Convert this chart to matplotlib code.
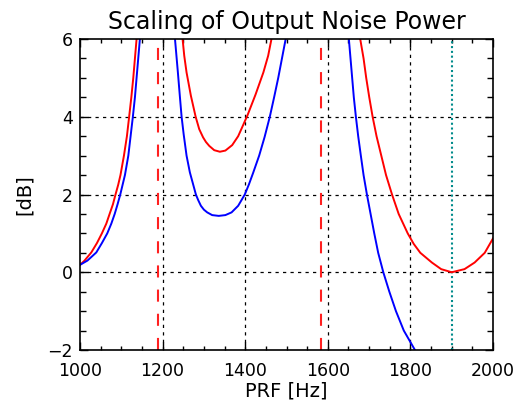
import matplotlib
matplotlib.use("Agg")
import matplotlib.pyplot as plt
from matplotlib.ticker import MultipleLocator

# values
# red curve, three branches
red_left_prf = [1000, 1011, 1027.4, 1041, 1053, 1063.7, 1071.7, 1079.8, 1086, 1092.5, 1098, 1106.4,
                1113.6, 1119, 1124.3, 1129, 1133, 1137, 1140]
red_left_db = [0.19, 0.3, 0.51, 0.75, 1.0, 1.25, 1.5, 1.75, 2.0, 2.25, 2.5, 3.0,
               3.5, 4.0, 4.5, 5.0, 5.5, 6.0, 6.4]
red_mid_prf = [1244, 1248.4, 1252.4, 1258, 1268.5, 1280, 1288.7, 1298, 1305, 1313, 1325, 1338.7, 1352,
               1368.5, 1383, 1393.5, 1406, 1425, 1444, 1455.6, 1463.6, 1468]
red_mid_db = [6.5, 6.0, 5.57, 5.14, 4.54, 4.0, 3.68, 3.47, 3.35, 3.25, 3.14, 3.10, 3.13,
              3.27, 3.5, 3.75, 4.05, 4.57, 5.14, 5.57, 6.0, 6.3]
red_right_prf = [1675, 1678.5, 1686.6, 1693, 1700.4, 1708.5, 1718, 1729.5, 1741, 1755.5, 1771.6,
                 1793.5, 1808, 1824, 1852, 1874.5, 1900, 1931, 1955.5, 1980, 2000]
red_right_db = [6.4, 6.0, 5.5, 5.0, 4.5, 4.0, 3.5, 3.0, 2.5, 2.0, 1.5,
                1.0, 0.73, 0.5, 0.25, 0.08, 0.0, 0.08, 0.25, 0.5, 0.87]

# blue curve, three branches
blue_left_prf = [1000, 1018, 1039.5, 1053, 1066, 1075.8, 1084, 1091, 1097.5, 1108.8, 1117, 1122.5,
                 1128, 1133, 1137, 1141, 1145, 1148]
blue_left_db = [0.19, 0.3, 0.51, 0.75, 1.0, 1.25, 1.5, 1.75, 2.0, 2.5, 3.0, 3.5,
                4.0, 4.5, 5.0, 5.5, 6.0, 6.4]
blue_mid_prf = [1226, 1230, 1237, 1242, 1246, 1251, 1258, 1266, 1280.6, 1286, 1292.7, 1300, 1308,
                1320, 1336, 1352, 1367, 1383, 1399, 1409, 1419, 1433.8, 1447, 1459.6, 1470, 1480,
                1489, 1498, 1502]
blue_mid_db = [6.5, 6.0, 5.14, 4.5, 4.0, 3.55, 3.0, 2.57, 2.0, 1.86, 1.71, 1.61, 1.54,
               1.47, 1.45, 1.47, 1.54, 1.71, 2.0, 2.26, 2.55, 3.0, 3.48, 4.0, 4.5, 5.0,
               5.5, 6.0, 6.2]
blue_right_prf = [1648, 1651, 1655, 1659, 1663, 1668, 1673.6, 1680, 1686.6, 1694.7, 1703.6, 1712.5,
                  1722, 1734.4, 1749, 1765, 1784, 1811, 1815]
blue_right_db = [6.4, 6.0, 5.5, 5.0, 4.5, 4.0, 3.5, 3.0, 2.5, 2.0, 1.5, 1.0,
                 0.5, 0.0, -0.5, -1.0, -1.5, -2.0, -2.1]

blind_prf = [1188, 1584]            # red dashed markers
grid_prf = [1200, 1400, 1600, 1800]
grid_db = [0, 2, 4]
nominal_prf = 1900                  # teal dotted marker

plt.rcParams['font.family'] = ['DejaVu Sans']

fig = plt.figure(figsize=(5.2, 4.03), dpi=100)
ax = fig.add_axes([80 / 520, 1 - 350 / 403, 413 / 520, 311 / 403])

for x in grid_prf:
    ax.axvline(x, color='black', lw=0.9, dashes=(2.6, 3.4))
for y in grid_db:
    ax.axhline(y, color='black', lw=0.9, dashes=(2.6, 3.4))
for x in blind_prf:
    ax.axvline(x, color='#ff2020', lw=1.5, dashes=(5.8, 5.8))
ax.axvline(nominal_prf, color='#008b8b', lw=1.5, dashes=(1.0, 1.3))

for px, db in [(red_left_prf, red_left_db), (red_mid_prf, red_mid_db), (red_right_prf, red_right_db)]:
    ax.plot(px, db, color='#ff0000', lw=1.4, solid_joinstyle='round')
for px, db in [(blue_left_prf, blue_left_db), (blue_mid_prf, blue_mid_db), (blue_right_prf, blue_right_db)]:
    ax.plot(px, db, color='#0000ff', lw=1.4, solid_joinstyle='round')

ax.set_xlim(1000, 2000)
ax.set_ylim(-2, 6)
ax.xaxis.set_major_locator(MultipleLocator(200))
ax.xaxis.set_minor_locator(MultipleLocator(50))
ax.yaxis.set_major_locator(MultipleLocator(2))
ax.yaxis.set_minor_locator(MultipleLocator(0.5))
ax.tick_params(which='both', direction='in', top=True, right=True, width=1, color='black')
ax.tick_params(axis='x', which='major', length=6, labelsize=12.5, pad=9)
ax.tick_params(axis='x', which='minor', length=3)
ax.tick_params(axis='y', which='major', length=6, labelsize=12.5, pad=5)
ax.tick_params(axis='y', which='minor', length=4.3)
for s in ax.spines.values():
    s.set_linewidth(1.2)

ax.set_title('Scaling of Output Noise Power', fontsize=17, pad=7)
ax.set_xlabel('PRF [Hz]', fontsize=14, labelpad=1)
ax.set_ylabel('[dB]', fontsize=14, labelpad=10)

fig.savefig('out.png', dpi=100)
